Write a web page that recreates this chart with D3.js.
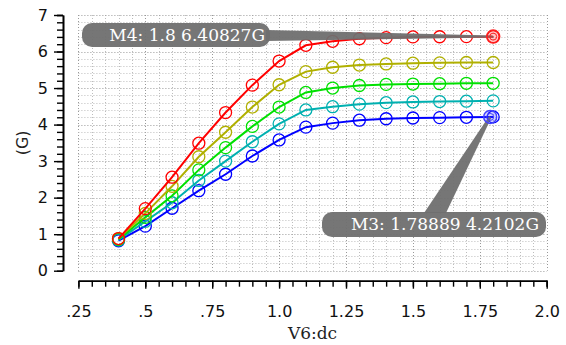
<!DOCTYPE html>
<html><head><meta charset="utf-8">
<script src="https://cdn.jsdelivr.net/npm/d3@7"></script>
<style>
html,body{margin:0;padding:0;background:#fff;}
svg{display:block;}
</style></head>
<body>
<svg id="chart" width="566" height="345"></svg>
<script>
// ---- data ----
const xValues = [0.4,0.5,0.6,0.7,0.8,0.9,1.0,1.1,1.2,1.3,1.4,1.5,1.6,1.7,1.8];
const seriesRed    = [0.88,1.70,2.56,3.49,4.33,5.08,5.74,6.17,6.28,6.35,6.38,6.40,6.405,6.407,6.408];
const seriesOlive  = [0.88,1.57,2.31,3.12,3.79,4.48,5.09,5.45,5.57,5.63,5.66,5.68,5.69,5.70,5.70];
const seriesGreen  = [0.86,1.46,2.05,2.76,3.37,3.95,4.48,4.88,5.00,5.07,5.10,5.11,5.12,5.13,5.13];
const seriesCyan   = [0.84,1.35,1.86,2.47,3.00,3.53,4.02,4.40,4.49,4.56,4.60,4.62,4.63,4.64,4.65];
const seriesBlue   = [0.82,1.22,1.71,2.19,2.64,3.14,3.58,3.93,4.04,4.12,4.16,4.18,4.19,4.20,4.21];
const seriesColors = ["#0000ff","#00b0b0","#00e000","#b0b000","#ff0000"];
const xMajorTicks = [0.25,0.5,0.75,1.0,1.25,1.5,1.75,2.0];
const xTickLabels = [".25",".5",".75","1.0","1.25","1.5","1.75","2.0"];
const yMajorTicks = [0,1,2,3,4,5,6,7];
const markerM4 = {name:"M4", x:1.8, y:6.40827, label:"M4: 1.8 6.40827G"};
const markerM3 = {name:"M3", x:1.78889, y:4.2102, label:"M3: 1.78889 4.2102G"};

const series = [seriesBlue, seriesCyan, seriesGreen, seriesOlive, seriesRed];

// ---- layout ----
const L = 78.4, R = 546.7, T = 15, B = 270.7;
const x = d3.scaleLinear().domain([0.25,2.0]).range([L,R]);
const y = d3.scaleLinear().domain([0,7]).range([B,T]);
const svg = d3.select("#chart");

// grid
const xMinor = d3.range(0,36).map(i => +(0.25 + i*0.05).toFixed(2));
const yMinor = d3.range(0,36).map(i => +(i*0.2).toFixed(1));
const grid = svg.append("g");
grid.selectAll(".gv").data(xMinor).join("line")
  .attr("x1", d=>Math.round(x(d))+0.5).attr("x2", d=>Math.round(x(d))+0.5)
  .attr("y1", T).attr("y2", B)
  .attr("stroke", (d,i)=> i%5===0 ? "#999" : "#bdbdbd")
  .attr("stroke-width",1).attr("stroke-dasharray","1,2");
grid.selectAll(".gh").data(yMinor).join("line")
  .attr("y1", d=>Math.round(y(d))+0.5).attr("y2", d=>Math.round(y(d))+0.5)
  .attr("x1", L).attr("x2", R)
  .attr("stroke", (d,i)=> i%5===0 ? "#999" : "#bdbdbd")
  .attr("stroke-width",1).attr("stroke-dasharray","1,2");

// axes
const axisFont = "DejaVu Sans";
const yAxisX = 63, xAxisY = 280.7;
const gyMinor = svg.append("g").attr("transform",`translate(${yAxisX},0)`)
  .call(d3.axisLeft(y).tickValues(yMinor.concat([7])).tickSize(6).tickSizeOuter(0).tickFormat(""));
const gy = svg.append("g").attr("transform",`translate(${yAxisX},0)`)
  .call(d3.axisLeft(y).tickValues(yMajorTicks).tickSize(9).tickSizeOuter(0).tickFormat(d3.format("d")).tickPadding(6));
const gxMinor = svg.append("g").attr("transform",`translate(0,${xAxisY})`)
  .call(d3.axisBottom(x).tickValues(xMinor.concat([2.0])).tickSize(6).tickSizeOuter(0).tickFormat(""));
const gx = svg.append("g").attr("transform",`translate(0,${xAxisY})`)
  .call(d3.axisBottom(x).tickValues(xMajorTicks).tickSize(8).tickSizeOuter(0)
    .tickFormat((d,i)=>xTickLabels[i]).tickPadding(17));
[gy,gyMinor,gx,gxMinor].forEach(g=>{
  g.selectAll("path.domain").attr("stroke","#000").attr("stroke-width",1.6);
  g.selectAll(".tick line").attr("stroke","#000").attr("stroke-width",1.4);
  g.selectAll("text").attr("fill","#111").attr("font-family",axisFont).attr("font-size",16);
});

// axis titles
svg.append("text").attr("x", (L+R)/2).attr("y", 339)
  .attr("text-anchor","middle").attr("font-family","DejaVu Serif").attr("font-size",17)
  .attr("fill","#222").text("V6:dc");
svg.append("text").attr("transform",`translate(28,${(T+B)/2}) rotate(-90)`)
  .attr("text-anchor","middle").attr("font-family",axisFont).attr("font-size",16)
  .attr("fill","#222").text("(G)");

// series
const line = d3.line().x((d,i)=>x(xValues[i])).y(d=>y(d));
series.forEach((s,k)=>{
  const g = svg.append("g");
  g.append("path").datum(s).attr("d",line).attr("fill","none")
    .attr("stroke",seriesColors[k]).attr("stroke-width",2);
  g.selectAll("circle").data(s).join("circle")
    .attr("cx",(d,i)=>x(xValues[i])).attr("cy",d=>y(d)).attr("r",6)
    .attr("fill","none").attr("stroke",seriesColors[k]).attr("stroke-width",1.3);
});

// callouts
const gray = "#6f6f6f";
function callout(m, box, tailBase, textEnd, color){
  const px = x(m.x), py = y(m.y);
  svg.append("polygon")
    .attr("points", `${tailBase[0][0]},${tailBase[0][1]} ${tailBase[1][0]},${tailBase[1][1]} ${px+1},${py+1} ${px-1},${py-1}`)
    .attr("fill", gray).attr("opacity",0.95);
  svg.append("rect").attr("x",box[0]).attr("y",box[1]).attr("width",box[2]).attr("height",box[3])
    .attr("rx",10).attr("ry",10).attr("fill",gray).attr("opacity",0.95);
  svg.append("text").attr("x",textEnd[0]).attr("y",textEnd[1]).attr("text-anchor","end")
    .attr("font-family","DejaVu Serif").attr("font-size",17).attr("fill","#fff").text(m.label);
  svg.append("circle").attr("cx",px).attr("cy",py).attr("r",6.5)
    .attr("fill",color).attr("fill-opacity",0.25).attr("stroke",color).attr("stroke-width",1.5);
  svg.append("circle").attr("cx",px).attr("cy",py).attr("r",3.5)
    .attr("fill","none").attr("stroke",color).attr("stroke-width",1);
}
callout(markerM4, [82,23,188,24], [[266,30],[266,41]], [265,41], "#ff2020");
callout(markerM3, [322,212,224,25], [[424,213],[446,213]], [539,230], "#4040ff");
</script>
</body></html>
